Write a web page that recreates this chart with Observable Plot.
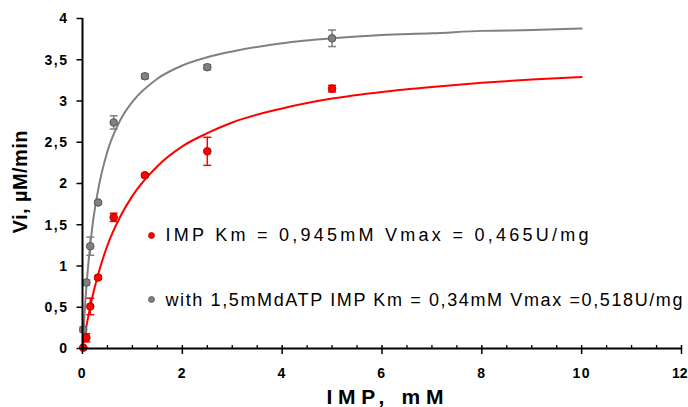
<!DOCTYPE html>
<html>
<head>
<meta charset="utf-8">
<script src="https://cdn.jsdelivr.net/npm/d3@7"></script>
<script src="https://cdn.jsdelivr.net/npm/@observablehq/plot@0.6"></script>
<style>
  html, body { margin: 0; padding: 0; background: #fff; }
  #chart svg { display: block; }
</style>
</head>
<body>
<div id="chart"></div>
<script>
// ---- data ----
const conc = [0.015, 0.078, 0.156, 0.3125, 0.625, 1.25, 2.5, 5];          // IMP, mM
const viIMP = [0.01, 0.13, 0.51, 0.86, 1.59, 2.10, 2.39, 3.15];            // red series
const errIMP = [0.01, 0.05, 0.10, 0.02, 0.05, 0.02, 0.17, 0.04];
const viDATP = [0.23, 0.80, 1.24, 1.77, 2.74, 3.30, 3.41, 3.76];           // grey series
const errDATP = [0.03, 0.03, 0.11, 0.02, 0.08, 0.03, 0.03, 0.10];

const fitX = [0, 0.05, 0.1, 0.2, 0.3, 0.5, 0.75, 1, 1.5, 2, 2.5, 3, 4, 5, 6, 7, 8, 9, 10];
const fitIMP = [0, 0.18, 0.34, 0.63, 0.87, 1.25, 1.59, 1.85, 2.21, 2.45, 2.61, 2.74, 2.91, 3.03, 3.11, 3.17, 3.22, 3.26, 3.29];
const fitDATP = [0, 0.51, 0.91, 1.49, 1.88, 2.39, 2.76, 2.99, 3.27, 3.43, 3.53, 3.60, 3.70, 3.76, 3.80, 3.82, 3.85, 3.86, 3.88];

const xTicks = [0, 2, 4, 6, 8, 10, 12];
const xTickLabels = ["0", "2", "4", "6", "8", "10", "12"];
const xMinorTicks = [0.5, 1, 1.5, 2.5, 3, 3.5, 4.5, 5, 5.5, 6.5, 7, 7.5, 8.5, 9, 9.5, 10.5, 11, 11.5];
const yTicks = [0, 0.5, 1, 1.5, 2, 2.5, 3, 3.5, 4];
const yTickLabels = ["0", "0,5", "1", "1,5", "2", "2,5", "3", "3,5", "4"];

const xLabel = "IMP, mM";
const yLabel = "Vi, µM/min";
const legendLabels = ["IMP Km = 0,945mM Vmax = 0,465U/mg", "with 1,5mMdATP IMP Km = 0,34mM Vmax =0,518U/mg"];

// ---- build tables ----
const RED = "#ff0000", RED_DARK = "#b80000", GREY = "#808080", GREY_DARK = "#555555";
const pts = conc.flatMap((x, i) => [
  {x, y: viIMP[i], e: errIMP[i], s: "imp"},
  {x, y: viDATP[i], e: errDATP[i], s: "datp"}
]);
const fitRed = fitX.map((x, i) => ({x, y: fitIMP[i]}));
const fitGrey = fitX.map((x, i) => ({x, y: fitDATP[i]}));
const xTickRows = xTicks.map((x, i) => ({x, label: xTickLabels[i]}));
const lastX = xTickRows.length - 1;

// custom stroke-only symbols
const capSym = {draw(c) { c.moveTo(-4, 0); c.lineTo(4, 0); }};
const xMajorSym = {draw(c) { c.moveTo(0, -3.5); c.lineTo(0, 5.5); }};
const xMinorSym = {draw(c) { c.moveTo(0, -3.5); c.lineTo(0, 0); }};
const yTickSym = {draw(c) { c.moveTo(-6, 0); c.lineTo(0, 0); }};

const col = d => d.s === "imp" ? RED : GREY;
const colDark = d => d.s === "imp" ? RED_DARK : GREY_DARK;

const chart = Plot.plot({
  width: 688,
  height: 407,
  marginLeft: 82,
  marginRight: 7,
  marginTop: 18,
  marginBottom: 59,
  x: {domain: [0, 12], axis: null},
  y: {domain: [0, 4], axis: null},
  style: {fontFamily: "'Liberation Sans', Arial, sans-serif", background: "#fff", color: "#000", overflow: "visible"},
  marks: [
    // fitted curves
    Plot.line(fitGrey, {x: "x", y: "y", stroke: GREY, strokeWidth: 2, curve: "monotone-x"}),
    Plot.line(fitRed, {x: "x", y: "y", stroke: RED, strokeWidth: 2, curve: "monotone-x"}),
    // error bars
    Plot.ruleX(pts, {x: "x", y1: d => d.y - d.e, y2: d => d.y + d.e, stroke: col, strokeWidth: 1.5}),
    Plot.dot(pts, {x: "x", y: d => d.y + d.e, symbol: capSym, fill: "none", stroke: col, strokeWidth: 1.5}),
    Plot.dot(pts, {x: "x", y: d => d.y - d.e, symbol: capSym, fill: "none", stroke: col, strokeWidth: 1.5}),
    // points
    Plot.dot(pts, {x: "x", y: "y", r: 3.8, fill: col, stroke: colDark, strokeWidth: 1}),
    // axes lines
    Plot.ruleY([0], {stroke: "#000", strokeWidth: 2}),
    Plot.ruleX([0], {stroke: "#000", strokeWidth: 2}),
    // ticks
    Plot.dot(xTicks, {x: d => d, y: 0, symbol: xMajorSym, fill: "none", stroke: "#000", strokeWidth: 1.5}),
    Plot.dot(xMinorTicks, {x: d => d, y: 0, symbol: xMinorSym, fill: "none", stroke: "#000", strokeWidth: 1.3}),
    Plot.dot(yTicks, {x: 0, y: d => d, symbol: yTickSym, fill: "none", stroke: "#000", strokeWidth: 1.5}),
    // tick labels
    Plot.text(xTickRows.slice(0, lastX), {x: "x", y: 0, text: "label", dy: 25, fontSize: 14, fontWeight: "bold", fill: "#000", textAnchor: "middle"}),
    Plot.text(xTickRows.slice(lastX), {x: "x", y: 0, text: "label", dx: 6, dy: 25, fontSize: 14, fontWeight: "bold", fill: "#000", textAnchor: "end"}),
    Plot.text(yTicks, {x: 0, y: d => d, text: (d, i) => yTickLabels[i], dx: -14, dy: 0.5, fontSize: 14, fontWeight: "bold", fill: "#000", textAnchor: "end"}),
    // axis titles
    Plot.text([xLabel], {frameAnchor: "bottom", text: d => d, dx: 3, dy: 48.5, lineAnchor: "middle", textAnchor: "middle", fontSize: 21, fontWeight: "bold", fill: "#000"}),
    Plot.text([yLabel], {frameAnchor: "left", text: d => d, dx: -62, dy: -1.5, rotate: -90, lineAnchor: "middle", textAnchor: "middle", fontSize: 20, fontWeight: "bold", fill: "#000"}),
    // legend
    Plot.dot([0], {frameAnchor: "top-left", dx: 69, dy: 217, r: 3, fill: RED, stroke: RED_DARK, strokeWidth: 0.8}),
    Plot.dot([0], {frameAnchor: "top-left", dx: 69, dy: 281, r: 3, fill: GREY, stroke: GREY_DARK, strokeWidth: 0.8}),
    Plot.text([legendLabels[0]], {frameAnchor: "top-left", text: d => d, dx: 83, dy: 216.5, lineAnchor: "middle", textAnchor: "start", fontSize: 18, fill: "#000"}),
    Plot.text([legendLabels[1]], {frameAnchor: "top-left", text: d => d, dx: 83, dy: 281.5, lineAnchor: "middle", textAnchor: "start", fontSize: 18, fill: "#000"})
  ]
});

document.getElementById("chart").appendChild(chart);

// stretch texts to the reference widths (letter-spaced originals)
const svg = d3.select(chart);
const fit = (str, len) => svg.selectAll("text")
  .filter(function () { return this.textContent === str; })
  .attr("textLength", len).attr("lengthAdjust", "spacing");
fit(legendLabels[0], 423);
fit(legendLabels[1], 517);
fit(xLabel, 117);
fit(yLabel, 103);
svg.selectAll("text").filter(function () {
  return (xTickLabels.includes(this.textContent) || yTickLabels.includes(this.textContent)) && this.textContent !== "12";
}).style("letter-spacing", "1.5px");
</script>
</body>
</html>
